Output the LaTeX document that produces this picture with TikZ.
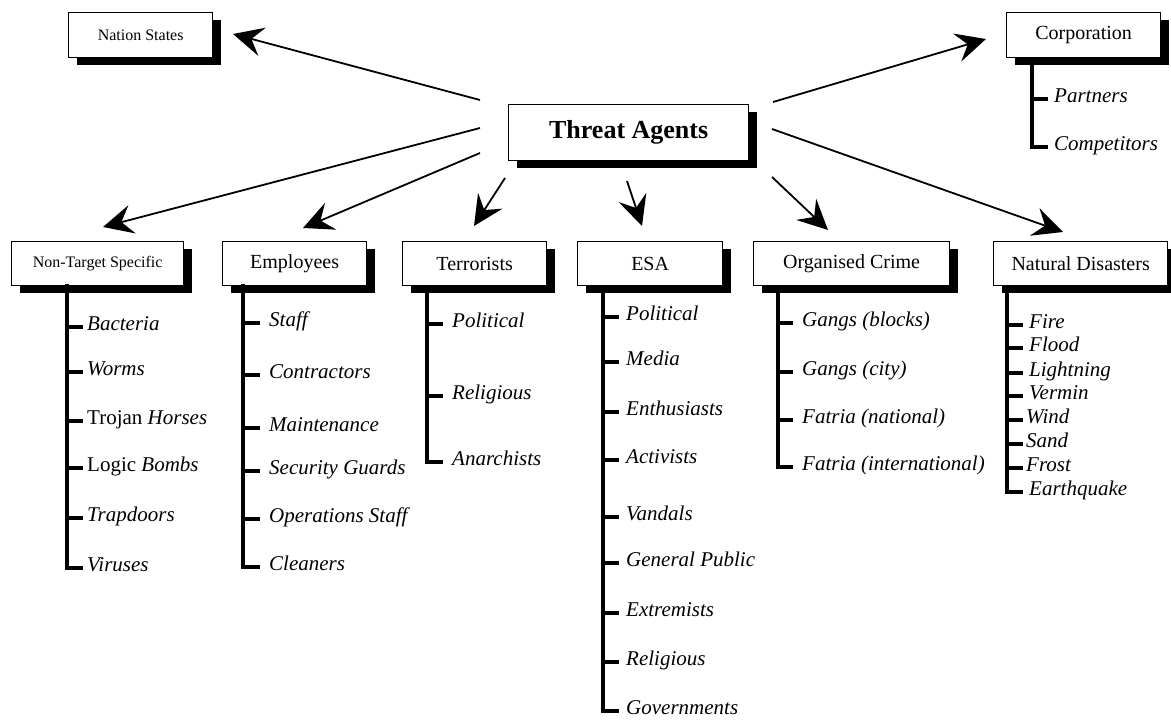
\documentclass[tikz,border=0pt]{standalone}
\usepackage{fontspec}
\setmainfont{Liberation Serif}
\usetikzlibrary{arrows.meta,shadows}

\begin{document}
\begin{tikzpicture}[x=1pt, y=-1pt, >={Stealth[length=30pt,width=29pt,inset=11pt]},
  agent/.style={draw, line width=1.3pt, fill=white, anchor=north west, minimum height=44pt,
                font=\fontsize{20}{24}\selectfont,
                drop shadow={shadow xshift=8pt, shadow yshift=-7pt, fill=black, opacity=1}},
  small/.style={font=\fontsize{16}{19}\selectfont},
  leaf/.style={anchor=west, inner xsep=6pt, inner ysep=0pt, text height=0.66em, text depth=0pt,
               font=\fontsize{21}{25}\selectfont\itshape},
  twig/.style={line width=3.2pt},
  link/.style={->, line width=1.8pt}]
\useasboundingbox (0,0) rectangle (1171,720);
% threat agent and the groups
\node[agent, font=\fontsize{26}{30}\selectfont\bfseries, minimum width=240pt, minimum height=56pt] (ta) at (508,104) {Threat Agents};
\node[agent, small, minimum width=144pt, minimum height=45pt] (ns) at (68,12) {Nation States};
\node[agent, minimum width=154pt, minimum height=45pt] (corp) at (1006,12) {Corporation};
\node[agent, small, minimum width=172pt] (nts) at (11,241) {Non-Target Specific};
\node[agent, minimum width=144pt] (emp) at (222,241) {Employees};
\node[agent, minimum width=144pt] (ter) at (402,241) {Terrorists};
\node[agent, minimum width=145pt] (esa) at (577,241) {ESA};
\node[agent, minimum width=196pt] (oc) at (753,241) {Organised Crime};
\node[agent, minimum width=174pt] (nd) at (993,241) {Natural Disasters};
% arrows out of the threat agents box
\coordinate (ta-1) at (480,100);  \coordinate (ns-in) at (233,34);
\coordinate (ta-2) at (773,102);  \coordinate (corp-in) at (986,39);
\coordinate (ta-3) at (480,128);  \coordinate (nts-in) at (103,227);
\coordinate (ta-4) at (480,153);  \coordinate (emp-in) at (303,228);
\coordinate (ta-5) at (505,178);  \coordinate (ter-in) at (474,226);
\coordinate (ta-6) at (627,181);  \coordinate (esa-in) at (642,226);
\coordinate (ta-7) at (772,177);  \coordinate (oc-in) at (828,230);
\coordinate (ta-8) at (772,129);  \coordinate (nd-in) at (1063,232);
\draw[link] (ta-1) -- (ns-in);
\draw[link] (ta-2) -- (corp-in);
\draw[link] (ta-3) -- (nts-in);
\draw[link] (ta-4) -- (emp-in);
\draw[link] (ta-5) -- (ter-in);
\draw[link] (ta-6) -- (esa-in);
\draw[link] (ta-7) -- (oc-in);
\draw[link] (ta-8) -- (nd-in);
% corporation
\coordinate (corp-t) at (1032,57);
\node[leaf] (corp1) at (1048,99) {Partners};
\node[leaf] (corp2) at (1048,147) {Competitors};
\draw[twig] (corp-t) |- (corp1.west) (corp-t) |- (corp2.west);
% non-target specific
\coordinate (nts-t) at (67,284);
\node[leaf, inner xsep=4pt] (nts1) at (83,327) {Bacteria};
\node[leaf, inner xsep=4pt] (nts2) at (83,372) {Worms};
\node[leaf, inner xsep=4pt] (nts3) at (83,421) {{\upshape Trojan} Horses};
\node[leaf, inner xsep=4pt] (nts4) at (83,468) {{\upshape Logic} Bombs};
\node[leaf, inner xsep=4pt] (nts5) at (83,518) {Trapdoors};
\node[leaf, inner xsep=4pt] (nts6) at (83,568) {Viruses};
\draw[twig] (nts-t) |- (nts1.west) (nts-t) |- (nts2.west) (nts-t) |- (nts3.west)
  (nts-t) |- (nts4.west) (nts-t) |- (nts5.west) (nts-t) |- (nts6.west);
% employees
\coordinate (emp-t) at (243,284);
\node[leaf, inner xsep=9pt] (emp1) at (260,323) {Staff};
\node[leaf, inner xsep=9pt] (emp2) at (260,375) {Contractors};
\node[leaf, inner xsep=9pt] (emp3) at (260,428) {Maintenance};
\node[leaf, inner xsep=9pt] (emp4) at (260,471) {Security Guards};
\node[leaf, inner xsep=9pt] (emp5) at (260,519) {Operations Staff};
\node[leaf, inner xsep=9pt] (emp6) at (260,567) {Cleaners};
\draw[twig] (emp-t) |- (emp1.west) (emp-t) |- (emp2.west) (emp-t) |- (emp3.west)
  (emp-t) |- (emp4.west) (emp-t) |- (emp5.west) (emp-t) |- (emp6.west);
% terrorists
\coordinate (ter-t) at (427,285);
\node[leaf, inner xsep=9pt] (ter1) at (443,324) {Political};
\node[leaf, inner xsep=9pt] (ter2) at (443,396) {Religious};
\node[leaf, inner xsep=9pt] (ter3) at (443,462) {Anarchists};
\draw[twig] (ter-t) |- (ter1.west) (ter-t) |- (ter2.west) (ter-t) |- (ter3.west);
% esa
\coordinate (esa-t) at (603,285);
\node[leaf, inner xsep=7pt] (esa1) at (619,317) {Political};
\node[leaf, inner xsep=7pt] (esa2) at (619,362) {Media};
\node[leaf, inner xsep=7pt] (esa3) at (619,412) {Enthusiasts};
\node[leaf, inner xsep=7pt] (esa4) at (619,460) {Activists};
\node[leaf, inner xsep=7pt] (esa5) at (619,517) {Vandals};
\node[leaf, inner xsep=7pt] (esa6) at (619,563) {General Public};
\node[leaf, inner xsep=7pt] (esa7) at (619,613) {Extremists};
\node[leaf, inner xsep=7pt] (esa8) at (619,662) {Religious};
\node[leaf, inner xsep=7pt] (esa9) at (619,711) {Governments};
\draw[twig] (esa-t) |- (esa1.west) (esa-t) |- (esa2.west) (esa-t) |- (esa3.west)
  (esa-t) |- (esa4.west) (esa-t) |- (esa5.west) (esa-t) |- (esa6.west)
  (esa-t) |- (esa7.west) (esa-t) |- (esa8.west) (esa-t) |- (esa9.west);
% organised crime
\coordinate (oc-t) at (778,285);
\node[leaf, inner xsep=9pt] (oc1) at (793,323) {Gangs (blocks)};
\node[leaf, inner xsep=9pt] (oc2) at (793,372) {Gangs (city)};
\node[leaf, inner xsep=9pt] (oc3) at (793,420) {Fatria (national)};
\node[leaf, inner xsep=9pt] (oc4) at (793,467) {Fatria (international)};
\draw[twig] (oc-t) |- (oc1.west) (oc-t) |- (oc2.west) (oc-t) |- (oc3.west) (oc-t) |- (oc4.west);
% natural disasters
\coordinate (nd-t) at (1007,285);
\node[leaf] (nd1) at (1023,325) {Fire};
\node[leaf] (nd2) at (1023,348) {Flood};
\node[leaf] (nd3) at (1023,373) {Lightning};
\node[leaf] (nd4) at (1023,396) {Vermin};
\node[leaf, inner xsep=3pt] (nd5) at (1023,420) {Wind};
\node[leaf, inner xsep=3pt] (nd6) at (1023,444) {Sand};
\node[leaf, inner xsep=3pt] (nd7) at (1023,468) {Frost};
\node[leaf] (nd8) at (1023,492) {Earthquake};
\draw[twig] (nd-t) |- (nd1.west) (nd-t) |- (nd2.west) (nd-t) |- (nd3.west) (nd-t) |- (nd4.west)
  (nd-t) |- (nd5.west) (nd-t) |- (nd6.west) (nd-t) |- (nd7.west) (nd-t) |- (nd8.west);
\end{tikzpicture}
\end{document}
